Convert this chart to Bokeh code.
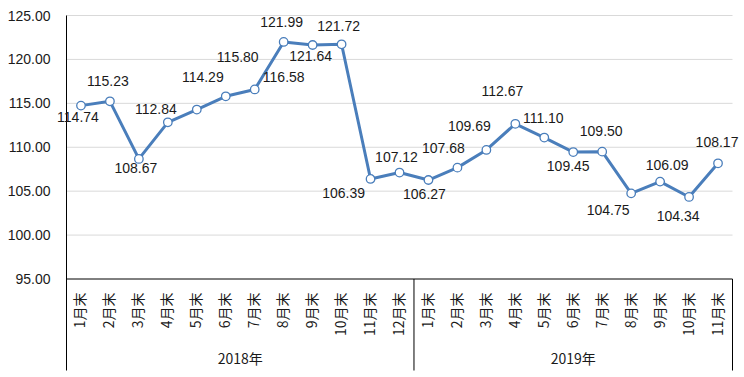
import math
from bokeh.plotting import figure
from bokeh.models import Range1d, ColumnDataSource
from bokeh.embed import file_html
from bokeh.resources import INLINE
from bokeh.core.properties import value

# ---- data ----
years = ["2018年", "2019年"]
months_2018 = ["1月末", "2月末", "3月末", "4月末", "5月末", "6月末",
               "7月末", "8月末", "9月末", "10月末", "11月末", "12月末"]
months_2019 = ["1月末", "2月末", "3月末", "4月末", "5月末", "6月末",
               "7月末", "8月末", "9月末", "10月末", "11月末"]
values = [114.74, 115.23, 108.67, 112.84, 114.29, 115.80, 116.58, 121.99,
          121.64, 121.72, 106.39, 107.12,
          106.27, 107.68, 109.69, 112.67, 111.10, 109.45, 109.50, 104.75,
          106.09, 104.34, 108.17]
y_ticks = [95, 100, 105, 110, 115, 120, 125]

# label placement (screen pixel offsets of each value label from its point, y down)
label_dx = [-3, -2, -3, -12, 6, 12, 29, -2, -2, -3, -27, -3,
            -4, -14, -17, -13, -1, -5, -1, -23, 7, -11, -1]
label_dy = [11, -20, 9, -13, -33, -39, -12, -20, 11, -18, 14, -16,
            14, -20, -24, -33, -20, 14, -21, 17, -17, 19, -21]

# ---- layout (pixels) ----
W, H = 744, 377
plot_left, plot_right = 66, 732      # category area horizontally
top_px, base_px, line_end_px = 15, 278.5, 370   # rows of 125 line, 95 line, bottom of frame lines
y_base, y_top = 95, 125
ppu = (base_px - top_px) / (y_top - y_base)
range_top = y_top + top_px / ppu
range_bottom = y_base - (H - base_px) / ppu
y_line_end = y_base - (line_end_px - base_px) / ppu

cats = months_2018 + months_2019
n = len(cats)
xs = [i + 0.5 for i in range(n)]
unit = (plot_right - plot_left) / n  # pixels per category
x_start = -plot_left / unit
x_end = n + (W - plot_right) / unit

p = figure(width=W, height=H, output_backend="svg", toolbar_location=None,
           x_range=Range1d(x_start, x_end), y_range=Range1d(range_bottom, range_top),
           x_axis_location=None, y_axis_location=None,
           min_border=0)
p.outline_line_color = None
p.background_fill_color = "white"
p.border_fill_color = "white"
p.xgrid.visible = False
p.ygrid.visible = False

ink = "#1a1a1a"

# horizontal gridlines
grid_y = y_ticks[1:]
p.segment(x0=[0] * len(grid_y), y0=grid_y, x1=[n] * len(grid_y), y1=grid_y,
          line_color="#D9D9D9", line_width=1)
# category axis base line
p.segment(x0=[0], y0=[y_base], x1=[n], y1=[y_base], line_color="black", line_width=1)
# value axis line
p.segment(x0=[0], y0=[y_line_end], x1=[0], y1=[y_top], line_color="black", line_width=1)
# value axis tick labels
p.text(x=[-16 / unit] * len(y_ticks), y=y_ticks, text=["%.2f" % t for t in y_ticks],
       text_align="right", text_baseline="middle",
       text_font=value("Liberation Sans"), text_font_size="14px", text_color=ink)

# group separators
sep_x = [len(months_2018), n]
p.segment(x0=sep_x, y0=[y_base] * 2, x1=sep_x, y1=[y_line_end] * 2,
          line_color="black", line_width=1)

# series
src = ColumnDataSource(dict(x=xs, y=values, t=["%.2f" % v for v in values],
                            dx=label_dx, dy=label_dy))
p.line("x", "y", source=src, line_color="#4A7EBB", line_width=3)
p.scatter("x", "y", source=src, size=8.5, fill_color="white",
          line_color="#4A7EBB", line_width=1.3)
p.text("x", "y", text="t", source=src, x_offset="dx", y_offset="dy",
       text_align="center", text_baseline="middle",
       text_font=value("Liberation Sans"), text_font_size="14px",
       text_color=ink)

# category labels (rotated)
cat_y = y_base - 13.5 / ppu
p.text(x=[x - 1.5 / unit for x in xs], y=[cat_y] * n, text=cats,
       angle=math.pi / 2, text_align="right", text_baseline="middle",
       text_font=value("Noto Sans CJK SC"), text_font_size="14px",
       text_color=ink)

# year labels
year_y = y_base - (357 - base_px) / ppu
year_x = [len(months_2018) / 2, len(months_2018) + len(months_2019) / 2]
p.text(x=year_x, y=[year_y] * 2, text=years,
       text_align="center", text_baseline="middle",
       text_font=value("Noto Sans CJK SC"), text_font_size="14px",
       text_color=ink)

open("out.html", "w").write(file_html(p, INLINE))
